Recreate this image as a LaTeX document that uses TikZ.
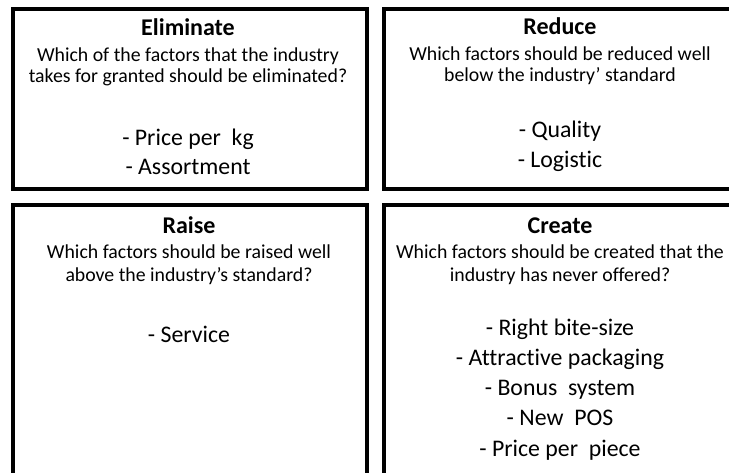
\documentclass[tikz,border=0pt]{standalone}
\usepackage{fontspec}
\setmainfont{Carlito}[Ligatures=NoCommon]
\usetikzlibrary{positioning}

\begin{document}
\begin{tikzpicture}[x=1pt,y=-1pt]
    % Define styles
    \tikzstyle{quad}=[draw,line width=4pt,inner sep=0pt]
    \tikzstyle{title}=[anchor=base,inner sep=0pt,font=\fontsize{24}{28}\selectfont\bfseries]
    \tikzstyle{ask}=[anchor=base,inner sep=0pt,font=\fontsize{19.8}{23}\selectfont]
    \tikzstyle{item}=[anchor=base,inner sep=0pt,font=\fontsize{23.8}{28}\selectfont]

    \useasboundingbox (0,0) rectangle (729,473);

    % Boxes
    \node[quad,minimum width=354pt,minimum height=180pt] (elim) at (189.5,99) {};
    \node[quad,minimum width=356.5pt,minimum height=180pt] (reduce) at (561.75,99) {};
    \node[quad,minimum width=354pt,minimum height=284.5pt] (raise) at (189.5,347.75) {};
    \node[quad,minimum width=356.5pt,minimum height=284.5pt] (create) at (561.75,347.75) {};

    % Eliminate
    \node[title] (elimT) at (188,35.5) {Eliminate};
    \node[ask] (elimQ1) at (188,61.5) {Which of the factors that the industry};
    \node[ask] (elimQ2) at (188,83) {takes for granted should be eliminated?};
    \foreach \t [count=\i] in {- Price per\ \ kg, - Assortment} {
        \node[item] (elim\i) at (188,117+29*\i) {\t};
    }

    % Reduce
    \node[title] (reduceT) at (560,35) {Reduce};
    \node[ask] (reduceQ1) at (560,61) {Which factors should be reduced well};
    \node[ask] (reduceQ2) at (560,82) {below the industry’ standard};
    \foreach \t [count=\i] in {- Quality, - Logistic} {
        \node[item] (reduce\i) at (560,107+30.5*\i) {\t};
    }

    % Raise
    \node[title] (raiseT) at (189,233.5) {Raise};
    \node[ask] (raiseQ1) at (189,258.5) {Which factors should be raised well};
    \node[ask] (raiseQ2) at (189,281.5) {above the industry’s standard?};
    \node[item] (raise1) at (189,342.5) {- Service};

    % Create
    \node[title] (createT) at (560,233.5) {Create};
    \node[ask] (createQ1) at (560,258.5) {Which factors should be created that the};
    \node[ask] (createQ2) at (560,281.5) {industry has never offered?};
    \foreach \t [count=\i] in {- Right bite-size, - Attractive packaging, - Bonus\ \ system, - New\ \ POS, - Price per\ \ piece} {
        \node[item] (create\i) at (560,305.5+30.1*\i) {\t};
    }
\end{tikzpicture}
\end{document}
